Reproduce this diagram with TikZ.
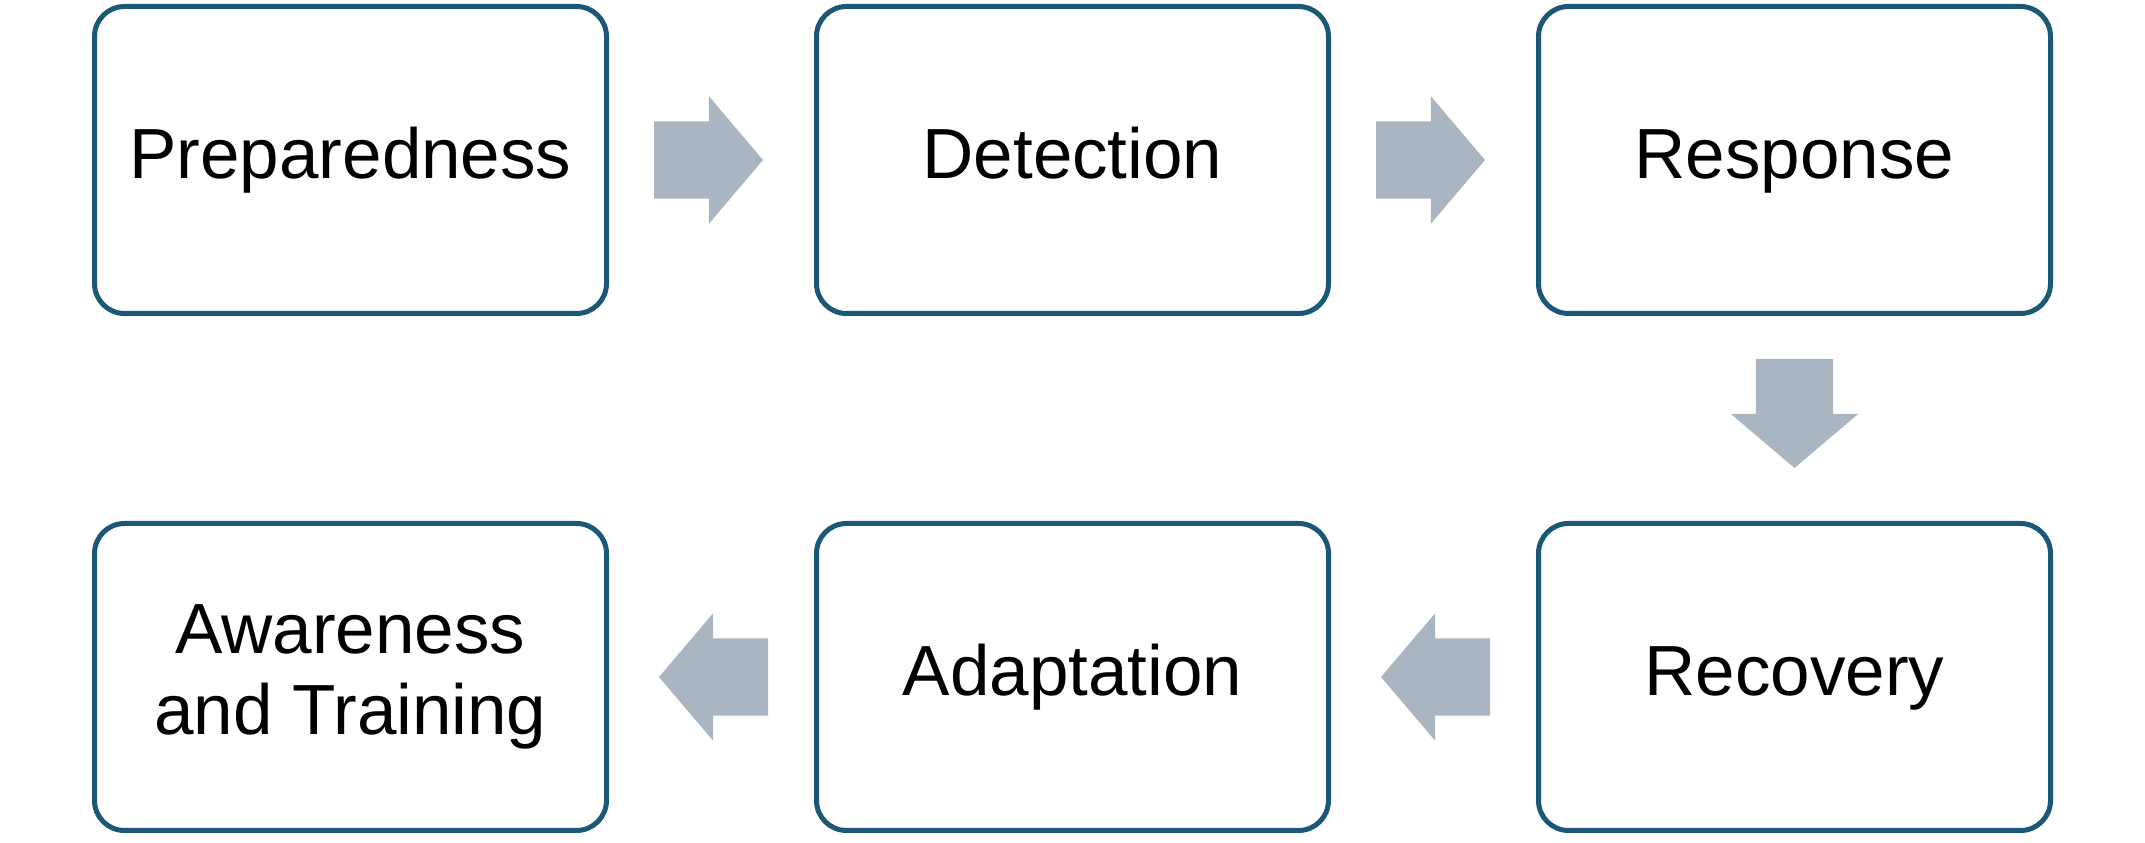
\documentclass[tikz,border=0pt]{standalone}
\usepackage{fontspec}
\setmainfont{Liberation Sans}
\usetikzlibrary{positioning,shapes.arrows}
\definecolor{boxline}{HTML}{1B5878}
\definecolor{flowfill}{HTML}{A9B5C1}
\tikzset{
	stage/.style={draw=boxline,line width=5pt,rounded corners=30pt,fill=white,
		minimum width=512pt,minimum height=307pt,align=center,
		font=\fontsize{71}{81}\selectfont},
	oneline/.style={text height=51pt,text depth=13pt},
	flow/.style={single arrow,fill=flowfill,draw=none,inner xsep=0pt,inner ysep=38.5pt,
		outer sep=0pt,minimum height=109pt,single arrow head extend=25pt,
		single arrow tip angle=99.3}
}
\begin{document}
\begin{tikzpicture}[x=1pt,y=1pt,node distance=205pt]
	\useasboundingbox (0,0) rectangle (2145,843);
	\node[stage,oneline] (prep) at (350.5,683) {Preparedness};
	\node[stage,oneline,right=of prep] (detect) {Detection};
	\node[stage,oneline,right=of detect] (resp) {Response};
	\node[stage,oneline,below=of resp] (recov) {Recovery};
	\node[stage,oneline,left=of recov] (adapt) {Adaptation};
	\node[stage,left=of adapt] (aware) {Awareness\\and Training};
	\node[flow,right=45pt of prep,anchor=tail] (f1) {};
	\node[flow,right=45pt of detect,anchor=tail] (f2) {};
	\node[flow,shape border rotate=270,inner xsep=38.5pt,inner ysep=0pt,
		below=43pt of resp,anchor=tail] (f3) {};
	\node[flow,shape border rotate=180,left=46pt of recov,anchor=tail] (f4) {};
	\node[flow,shape border rotate=180,left=46pt of adapt,anchor=tail] (f5) {};
\end{tikzpicture}
\end{document}
